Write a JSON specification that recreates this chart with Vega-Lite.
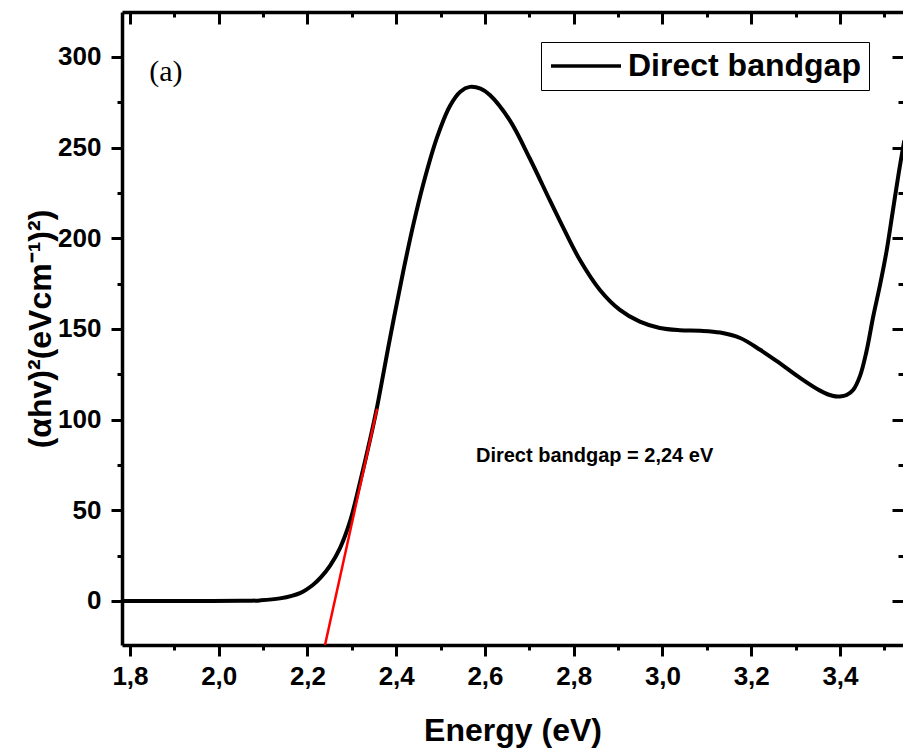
{
  "$schema": "https://vega.github.io/schema/vega-lite/v6.json",
  "width": 781,
  "height": 633,
  "autosize": {"type": "none"},
  "padding": {"left": 122, "top": 12, "right": 0, "bottom": 108},
  "background": "white",
  "config": {"view": {"stroke": null}, "font": "Liberation Sans"},
  "datasets": {
    "curve": [
      {"E": 1.782, "val": 0, "series": "Direct bandgap"},
      {"E": 1.85, "val": 0, "series": "Direct bandgap"},
      {"E": 1.95, "val": 0, "series": "Direct bandgap"},
      {"E": 2.05, "val": 0.05, "series": "Direct bandgap"},
      {"E": 2.093, "val": 0.3, "series": "Direct bandgap"},
      {"E": 2.138, "val": 1.4, "series": "Direct bandgap"},
      {"E": 2.183, "val": 4.3, "series": "Direct bandgap"},
      {"E": 2.212, "val": 8.8, "series": "Direct bandgap"},
      {"E": 2.23, "val": 13, "series": "Direct bandgap"},
      {"E": 2.251, "val": 19.5, "series": "Direct bandgap"},
      {"E": 2.273, "val": 29, "series": "Direct bandgap"},
      {"E": 2.296, "val": 44, "series": "Direct bandgap"},
      {"E": 2.318, "val": 65, "series": "Direct bandgap"},
      {"E": 2.341, "val": 89, "series": "Direct bandgap"},
      {"E": 2.356, "val": 106, "series": "Direct bandgap"},
      {"E": 2.386, "val": 145, "series": "Direct bandgap"},
      {"E": 2.416, "val": 182, "series": "Direct bandgap"},
      {"E": 2.438, "val": 207, "series": "Direct bandgap"},
      {"E": 2.461, "val": 230, "series": "Direct bandgap"},
      {"E": 2.491, "val": 255, "series": "Direct bandgap"},
      {"E": 2.521, "val": 273, "series": "Direct bandgap"},
      {"E": 2.545, "val": 281, "series": "Direct bandgap"},
      {"E": 2.566, "val": 283.5, "series": "Direct bandgap"},
      {"E": 2.59, "val": 282.5, "series": "Direct bandgap"},
      {"E": 2.611, "val": 279, "series": "Direct bandgap"},
      {"E": 2.656, "val": 265, "series": "Direct bandgap"},
      {"E": 2.701, "val": 244, "series": "Direct bandgap"},
      {"E": 2.746, "val": 221, "series": "Direct bandgap"},
      {"E": 2.769, "val": 209.5, "series": "Direct bandgap"},
      {"E": 2.814, "val": 188, "series": "Direct bandgap"},
      {"E": 2.859, "val": 171.5, "series": "Direct bandgap"},
      {"E": 2.904, "val": 160.5, "series": "Direct bandgap"},
      {"E": 2.949, "val": 154, "series": "Direct bandgap"},
      {"E": 2.994, "val": 150.5, "series": "Direct bandgap"},
      {"E": 3.039, "val": 149.3, "series": "Direct bandgap"},
      {"E": 3.085, "val": 149, "series": "Direct bandgap"},
      {"E": 3.13, "val": 148, "series": "Direct bandgap"},
      {"E": 3.175, "val": 145, "series": "Direct bandgap"},
      {"E": 3.22, "val": 138.5, "series": "Direct bandgap"},
      {"E": 3.265, "val": 131, "series": "Direct bandgap"},
      {"E": 3.31, "val": 123, "series": "Direct bandgap"},
      {"E": 3.355, "val": 116, "series": "Direct bandgap"},
      {"E": 3.385, "val": 113, "series": "Direct bandgap"},
      {"E": 3.4, "val": 112.8, "series": "Direct bandgap"},
      {"E": 3.415, "val": 113.6, "series": "Direct bandgap"},
      {"E": 3.43, "val": 116.5, "series": "Direct bandgap"},
      {"E": 3.445, "val": 124, "series": "Direct bandgap"},
      {"E": 3.46, "val": 138, "series": "Direct bandgap"},
      {"E": 3.475, "val": 157, "series": "Direct bandgap"},
      {"E": 3.49, "val": 174, "series": "Direct bandgap"},
      {"E": 3.505, "val": 193, "series": "Direct bandgap"},
      {"E": 3.519, "val": 215, "series": "Direct bandgap"},
      {"E": 3.533, "val": 237, "series": "Direct bandgap"},
      {"E": 3.545, "val": 254, "series": "Direct bandgap"}
    ],
    "tangent": [
      {"E": 2.2395, "val": -24.3},
      {"E": 2.357, "val": 106}
    ],
    "panel": [{"E": 1.881, "val": 291.6, "label": "(a)"}],
    "note": [{"E": 2.847, "val": 79.8, "label": "Direct bandgap = 2,24 eV"}]
  },
  "layer": [
    {
      "data": {"name": "curve"},
      "mark": {"type": "line", "strokeWidth": 4, "interpolate": "catmull-rom", "clip": true},
      "encoding": {
        "x": {
          "field": "E", "type": "quantitative",
          "scale": {"domain": [1.782, 3.542], "nice": false, "zero": false},
          "axis": {
            "orient": "bottom",
            "values": [1.8, 1.9, 2.0, 2.1, 2.2, 2.3, 2.4, 2.5, 2.6, 2.7, 2.8, 2.9, 3.0, 3.1, 3.2, 3.3, 3.4, 3.5],
            "labelExpr": "round(datum.value*10) % 2 == 0 ? replace(format(datum.value, '.1f'), '.', ',') : ''",
            "tickSize": {"condition": {"test": "round(datum.value*10) % 2 == 0", "value": 11}, "value": 5},
            "tickWidth": 3, "tickColor": "black",
            "domainWidth": 3.5, "domainColor": "black",
            "labelFontSize": 26, "labelFontWeight": "bold", "labelColor": "black",
            "labelPadding": 7, "labelFlush": false, "labelOverlap": false,
            "grid": false,
            "title": "Energy (eV)", "titleFontSize": 32, "titleFontWeight": "bold", "titleColor": "black",
            "titlePadding": 26
          }
        },
        "y": {
          "field": "val", "type": "quantitative",
          "scale": {"domain": [-24.3, 324.8], "nice": false, "zero": false},
          "axis": {
            "orient": "left",
            "values": [0, 25, 50, 75, 100, 125, 150, 175, 200, 225, 250, 275, 300],
            "labelExpr": "datum.value % 50 == 0 ? format(datum.value, 'd') : ''",
            "tickSize": {"condition": {"test": "datum.value % 50 == 0", "value": 11}, "value": 5},
            "tickWidth": 3, "tickColor": "black",
            "domainWidth": 3.5, "domainColor": "black",
            "labelFontSize": 26, "labelFontWeight": "bold", "labelColor": "black",
            "labelPadding": 10, "labelFlush": false, "labelOverlap": false,
            "grid": false,
            "title": "(αhv)²(eVcm⁻¹)²)", "titleFontSize": 32, "titleFontWeight": "bold", "titleColor": "black",
            "titlePadding": 0
          }
        },
        "color": {
          "field": "series", "type": "nominal",
          "scale": {"domain": ["Direct bandgap"], "range": ["black"]},
          "legend": {
            "orient": "none", "legendX": 419, "legendY": 30,
            "title": null,
            "strokeColor": "black", "fillColor": "white", "padding": 8,
            "symbolType": "M-1,0H4", "symbolSize": 784, "symbolStrokeWidth": 3.5,
            "symbolStrokeColor": "black",
            "labelFontSize": 32, "labelFontWeight": "bold", "labelColor": "black",
            "labelOffset": 47, "labelLimit": 400
          }
        }
      }
    },
    {
      "data": {"name": "tangent"},
      "mark": {"type": "line", "color": "red", "strokeWidth": 2.5, "clip": true},
      "encoding": {
        "x": {
          "field": "E", "type": "quantitative",
          "scale": {"domain": [1.782, 3.542], "nice": false, "zero": false},
          "axis": {
            "orient": "top",
            "values": [1.8, 1.9, 2.0, 2.1, 2.2, 2.3, 2.4, 2.5, 2.6, 2.7, 2.8, 2.9, 3.0, 3.1, 3.2, 3.3, 3.4, 3.5],
            "labels": false, "title": null, "grid": false,
            "tickSize": {"condition": {"test": "round(datum.value*10) % 2 == 0", "value": -12}, "value": -5},
            "tickWidth": 3, "tickColor": "black",
            "domainWidth": 3.5, "domainColor": "black"
          }
        },
        "y": {
          "field": "val", "type": "quantitative",
          "scale": {"domain": [-24.3, 324.8], "nice": false, "zero": false},
          "axis": {
            "orient": "right",
            "values": [0, 25, 50, 75, 100, 125, 150, 175, 200, 225, 250, 275, 300],
            "labels": false, "title": null, "grid": false, "domain": false,
            "tickSize": {"condition": {"test": "datum.value % 50 == 0", "value": -11}, "value": -5},
            "tickWidth": 3, "tickColor": "black"
          }
        }
      }
    },
    {
      "data": {"name": "panel"},
      "mark": {"type": "text", "font": "Liberation Serif", "fontSize": 30, "align": "center", "baseline": "middle", "color": "black"},
      "encoding": {
        "x": {"field": "E", "type": "quantitative", "scale": {"domain": [1.782, 3.542], "nice": false, "zero": false}, "axis": null},
        "y": {"field": "val", "type": "quantitative", "scale": {"domain": [-24.3, 324.8], "nice": false, "zero": false}, "axis": null},
        "text": {"field": "label"}
      }
    },
    {
      "data": {"name": "note"},
      "mark": {"type": "text", "font": "Liberation Sans", "fontWeight": "bold", "fontSize": 20, "align": "center", "baseline": "middle", "color": "black"},
      "encoding": {
        "x": {"field": "E", "type": "quantitative", "scale": {"domain": [1.782, 3.542], "nice": false, "zero": false}, "axis": null},
        "y": {"field": "val", "type": "quantitative", "scale": {"domain": [-24.3, 324.8], "nice": false, "zero": false}, "axis": null},
        "text": {"field": "label"}
      }
    }
  ],
  "resolve": {"axis": {"x": "independent", "y": "independent"}}
}
